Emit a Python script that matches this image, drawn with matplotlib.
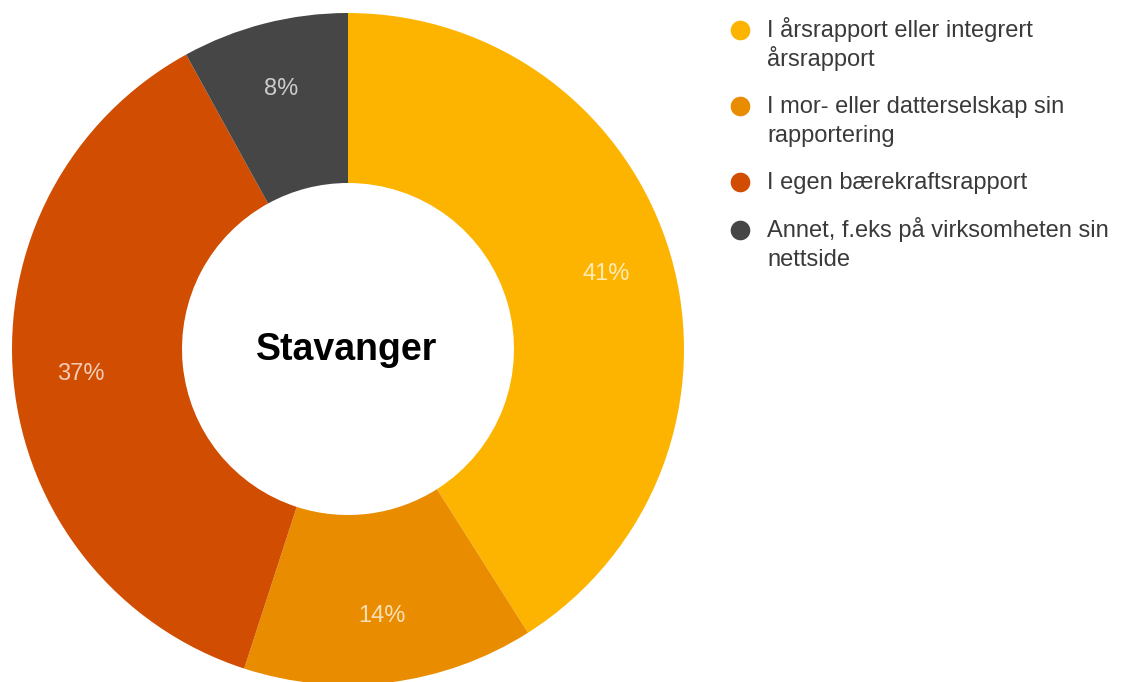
import matplotlib.pyplot as plt

plt.rcParams['font.family'] = ['Liberation Sans', 'DejaVu Sans']

categories = [
    "I årsrapport eller integrert\nårsrapport",
    "I mor- eller datterselskap sin\nrapportering",
    "I egen bærekraftsrapport",
    "Annet, f.eks på virksomheten sin\nnettside",
]
shares = [41, 14, 37, 8]
colors = ["#FDB400", "#E98C00", "#D04D02", "#464646"]
city = "Stavanger"

W, H = 1122, 682
fig = plt.figure(figsize=(W / 100, H / 100), dpi=100)
ax = fig.add_axes([0, 0, 1, 1])

# donut, clockwise from 12 o'clock
cx, cy, r_out, r_in = 348, H - 349, 336, 166
wedges, _, pct = ax.pie(
    shares, colors=colors, startangle=90, counterclock=False,
    center=(cx, cy), radius=r_out, frame=True,
    wedgeprops=dict(width=r_out - r_in, linewidth=0),
    autopct=lambda p: f"{p:.0f}%", pctdistance=0.8,
    textprops=dict(color="white", alpha=0.72, fontsize=17),
)
ax.set_xlim(0, W)
ax.set_ylim(0, H)
ax.set_aspect('equal')
ax.axis('off')

ax.text(cx - 1, cy - 1, city, ha='center', va='center',
        fontsize=27, fontweight='bold', color='black')

# legend drawn by hand so the dot sits on the first line of each label
dot_x, text_x = 740, 767
y = 30
line_h, gap = 28.5, 19
for label, c in zip(categories, colors):
    ax.scatter([dot_x], [H - y], s=200, color=c, linewidths=0, clip_on=False)
    for k, line in enumerate(label.split("\n")):
        ax.text(text_x, H - (y + k * line_h) - 7.5, line, ha='left',
                va='baseline', fontsize=17, color='#3a3a3a')
    y += len(label.split("\n")) * line_h + gap

fig.savefig("out.png", dpi=100, facecolor='white')
